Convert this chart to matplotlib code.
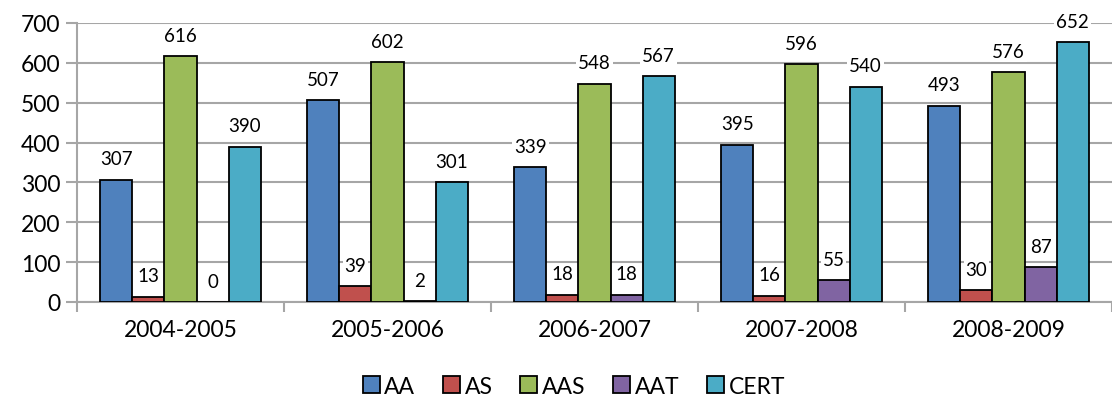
import numpy as np
import matplotlib
matplotlib.use("Agg")
import matplotlib.pyplot as plt

# data
years = ["2004-2005", "2005-2006", "2006-2007", "2007-2008", "2008-2009"]
series_names = ["AA", "AS", "AAS", "AAT", "CERT"]
aa = [307, 507, 339, 395, 493]
as_ = [13, 39, 18, 16, 30]
aas = [616, 602, 548, 596, 576]
aat = [0, 2, 18, 55, 87]
cert = [390, 301, 567, 540, 652]
colors = ["#4F81BD", "#C0504D", "#9BBB59", "#8064A2", "#4BACC6"]

plt.rcParams["font.family"] = ["Lato", "DejaVu Sans"]

fig = plt.figure(figsize=(11.12, 4.06), dpi=100)
ax = fig.add_axes([77 / 1112, 103 / 406, 1035 / 1112, 279 / 406])

values = [aa, as_, aas, aat, cert]
x = np.arange(len(years))
width = 0.155
grid_col = "#A6A6A6"

for i, (name, vals, col) in enumerate(zip(series_names, values, colors)):
    pos = x + (i - 2) * width
    ax.bar(pos, vals, width, color=col, edgecolor="black", linewidth=1.3,
           label=name, zorder=3)
    for px, v in zip(pos, vals):
        ax.annotate(str(v), xy=(px, v), xytext=(0, 15), textcoords="offset points",
                    ha="center", va="center", fontsize=13.5, zorder=4,
                    bbox=dict(boxstyle="square,pad=0.1", facecolor="white",
                              edgecolor="none"))

ax.set_xlim(-0.5, len(years) - 0.5)
ax.set_ylim(0, 700)
ax.set_yticks(range(0, 701, 100))
ax.yaxis.grid(True, color=grid_col, linewidth=1.5, zorder=0)
ax.set_axisbelow(True)

ax.set_xticks(x)
ax.set_xticklabels(years, fontsize=16.5)
ax.set_xticks(np.arange(-0.5, len(years)), minor=True)
ax.tick_params(axis="x", which="major", length=0, pad=12)
ax.tick_params(axis="x", which="minor", length=7, width=1.5, color=grid_col)
ax.tick_params(axis="y", length=8, width=1.5, color=grid_col, labelsize=16.5, pad=4)

for side in ["top", "right"]:
    ax.spines[side].set_visible(False)
for side in ["left", "bottom"]:
    ax.spines[side].set_color(grid_col)
    ax.spines[side].set_linewidth(1.5)

ax.legend(loc="upper center", bbox_to_anchor=(0.48, -0.19), ncol=5, frameon=False,
          fontsize=16.5, handlelength=0.75, handleheight=0.75, handletextpad=0.2,
          columnspacing=1.2)

fig.savefig("out.png", dpi=100)
